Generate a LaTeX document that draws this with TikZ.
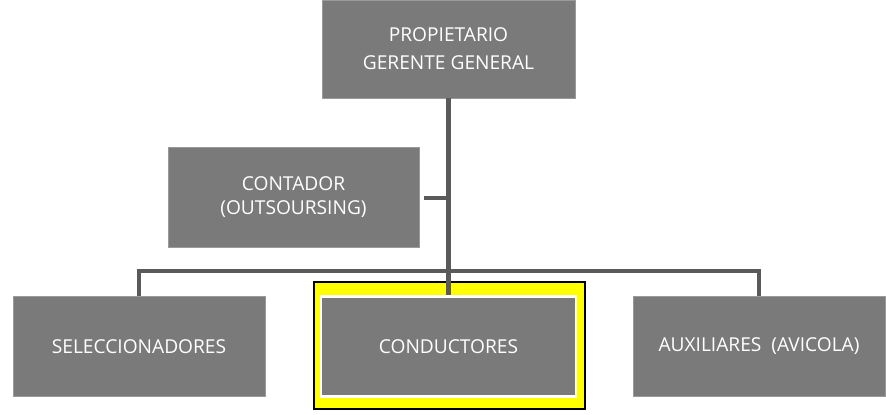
\documentclass[tikz,border=0pt]{standalone}
\usepackage{fontspec}
\setmainfont{Open Sans}

\definecolor{boxgray}{HTML}{7A7A7A}
\definecolor{edgegray}{HTML}{9A9A9A}
\definecolor{linegray}{HTML}{5A5A5A}
\definecolor{hiyellow}{HTML}{FFFF00}

\begin{document}
\begin{tikzpicture}[
  post/.style={rectangle,fill=boxgray,draw=edgegray,line width=0.4pt,text=white,minimum width=5.04cm,minimum height=2.0cm,inner sep=0pt,align=center,font=\fontsize{10.9}{13.6}\selectfont},
  hilite/.style={rectangle,fill=hiyellow,draw=black,line width=0.8pt,minimum width=5.42cm,minimum height=2.54cm,inner sep=0pt},
  trunk/.style={draw=linegray,line width=2.5pt},
  branch/.style={draw=linegray,line width=1.9pt}]
  \useasboundingbox (0,0) rectangle (17.72,8.28);
  % boxes
  \node[post,minimum width=5.06cm,minimum height=1.96cm] (prop) at (8.97,7.30) {PROPIETARIO\\[2.3pt]GERENTE GENERAL};
  \node[post,minimum width=5.02cm] (cont) at (5.87,4.34) {CONTADOR\\(OUTSOURSING)};
  \node[post] (sel) at (2.78,1.35) {SELECCIONADORES};
  \node[hilite] (mark) at (8.99,1.37) {};
  \node[post] (aux) at (15.18,1.35) {AUXILIARES\ \ (AVICOLA)};
  % bus line and stubs
  \coordinate (bus) at (8.97,2.86);
  \coordinate (tap) at (8.97,4.32);
  \draw[branch] (sel.north) |- (bus) -| (aux.north);
  \draw[trunk] (prop.south) -- (8.97,1.35 |- mark.north) -- ++(0,-0.3);
  \draw[branch] ([xshift=0.1cm]cont.east |- tap) -- (tap);
  % highlighted box on top of the trunk
  \node[post,minimum width=5.1cm,draw=white,line width=1.2pt] (cond) at (8.97,1.35) {CONDUCTORES};
\end{tikzpicture}
\end{document}
